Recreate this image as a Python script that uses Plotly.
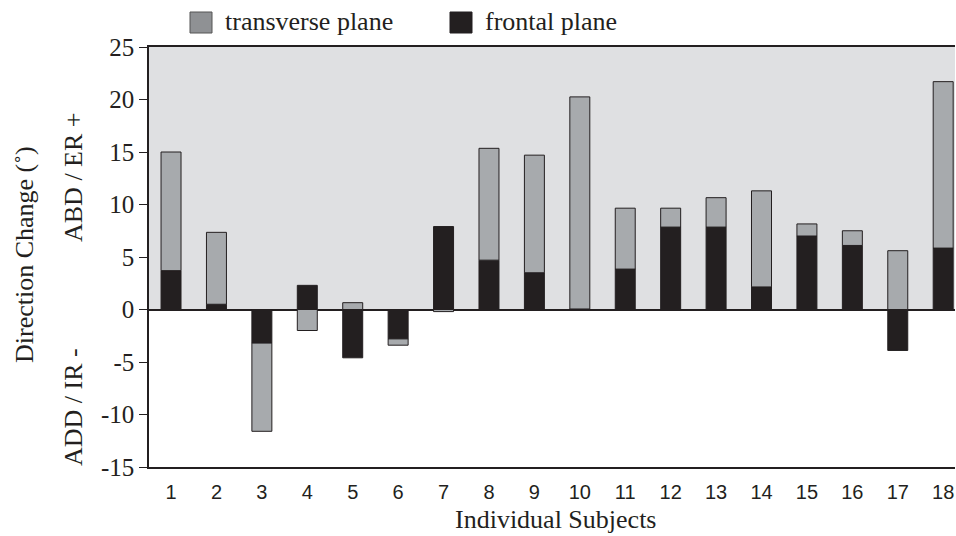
import plotly.graph_objects as go

subjects = list(range(1, 19))
tick_labels = [str(s) for s in subjects]
frontal = [3.7, 0.5, -3.2, 2.3, -4.6, -2.8, 7.9, 4.7, 3.5, 0.05, 3.85, 7.85, 7.85, 2.15, 7.0, 6.1, -3.9, 5.85]
transverse = [11.3, 6.85, -8.4, -2.0, 0.65, -0.6, -0.2, 10.65, 11.2, 20.2, 5.8, 1.8, 2.8, 9.15, 1.15, 1.4, 5.6, 15.85]
y_ticks = [-15, -10, -5, 0, 5, 10, 15, 20, 25]
y_tick_text = ["-15", "-10", "-5", "0", "5", "10", "15", "20", "25"]

DARK = "#231f20"
GRAY = "#a7aaad"
SHADE = "#dfe0e2"
SERIF = "Liberation Serif"
SANS = "Liberation Sans"

PL, PR, PT, PB = 149, 955, 47, 467  # plot area in page pixels
PW, PH = PR - PL, PB - PT


def px(xp):
    return (xp - PL) / PW


def py(yp):
    return (PB - yp) / PH


fig = go.Figure()
fig.add_trace(go.Bar(x=subjects, y=frontal, name="frontal plane", width=0.44,
                     marker=dict(color=DARK, line=dict(color=DARK, width=1)), showlegend=False))
fig.add_trace(go.Bar(x=subjects, y=transverse, name="transverse plane", width=0.44,
                     marker=dict(color=GRAY, line=dict(color=DARK, width=1)), showlegend=False))

# shaded positive region
fig.add_shape(type="rect", xref="paper", yref="y", x0=0, x1=1, y0=0, y1=25,
              fillcolor=SHADE, line=dict(width=0), layer="below")

# legend (manual)
fig.add_shape(type="rect", xref="paper", yref="paper",
              x0=px(190), x1=px(212), y0=py(33), y1=py(12),
              fillcolor="#8f9194", line=dict(color="#555", width=1))
fig.add_shape(type="rect", xref="paper", yref="paper",
              x0=px(450), x1=px(472), y0=py(33), y1=py(12),
              fillcolor=DARK, line=dict(color=DARK, width=1))
fig.add_annotation(xref="paper", yref="paper", x=px(223), y=py(22),
                   text="transverse plane", showarrow=False, xanchor="left", yanchor="middle",
                   font=dict(family=SERIF, size=26, color=DARK))
fig.add_annotation(xref="paper", yref="paper", x=px(483), y=py(22),
                   text="frontal plane", showarrow=False, xanchor="left", yanchor="middle",
                   font=dict(family=SERIF, size=26, color=DARK))

# y-axis titles
fig.add_annotation(xref="paper", yref="paper", x=px(24), y=py(255),
                   text="Direction Change (˚)", textangle=-90, showarrow=False,
                   xanchor="center", yanchor="middle", font=dict(family=SERIF, size=26, color=DARK))
fig.add_annotation(xref="paper", yref="paper", x=px(73), y=py(177),
                   text="ABD / ER +", textangle=-90, showarrow=False,
                   xanchor="center", yanchor="middle", font=dict(family=SERIF, size=26, color=DARK))
fig.add_annotation(xref="paper", yref="paper", x=px(73), y=py(407),
                   text="ADD / IR -", textangle=-90, showarrow=False,
                   xanchor="center", yanchor="middle", font=dict(family=SERIF, size=26, color=DARK))

# x title
fig.add_annotation(xref="paper", yref="paper", x=px(555), y=py(519),
                   text="Individual Subjects", showarrow=False,
                   xanchor="center", yanchor="middle", font=dict(family=SERIF, size=26, color=DARK))

W, H = 956, 536
fig.update_layout(
    width=W, height=H,
    margin=dict(l=PL, r=W - PR, t=PT, b=H - PB),
    barmode="relative",
    plot_bgcolor="white", paper_bgcolor="white",
    xaxis=dict(range=[0.515, 18.26], tickvals=subjects, ticktext=tick_labels,
               showline=True, linecolor=DARK, linewidth=1.5, mirror=True,
               ticks="outside", ticklen=6, tickcolor="rgba(0,0,0,0)",
               showgrid=False, zeroline=False,
               tickfont=dict(family=SANS, size=20, color=DARK)),
    yaxis=dict(range=[-15, 25], tickvals=y_ticks, ticktext=y_tick_text,
               showline=True, linecolor=DARK, linewidth=1.5,
               ticks="outside", ticklen=8, tickcolor=DARK, tickwidth=1,
               showgrid=False, zeroline=True, zerolinecolor=DARK, zerolinewidth=1.5,
               tickfont=dict(family=SERIF, size=25, color=DARK)),
)

fig.write_html("out.html", config={"displayModeBar": False},
               post_script="document.body.style.margin='0';document.body.style.overflow='hidden';")
